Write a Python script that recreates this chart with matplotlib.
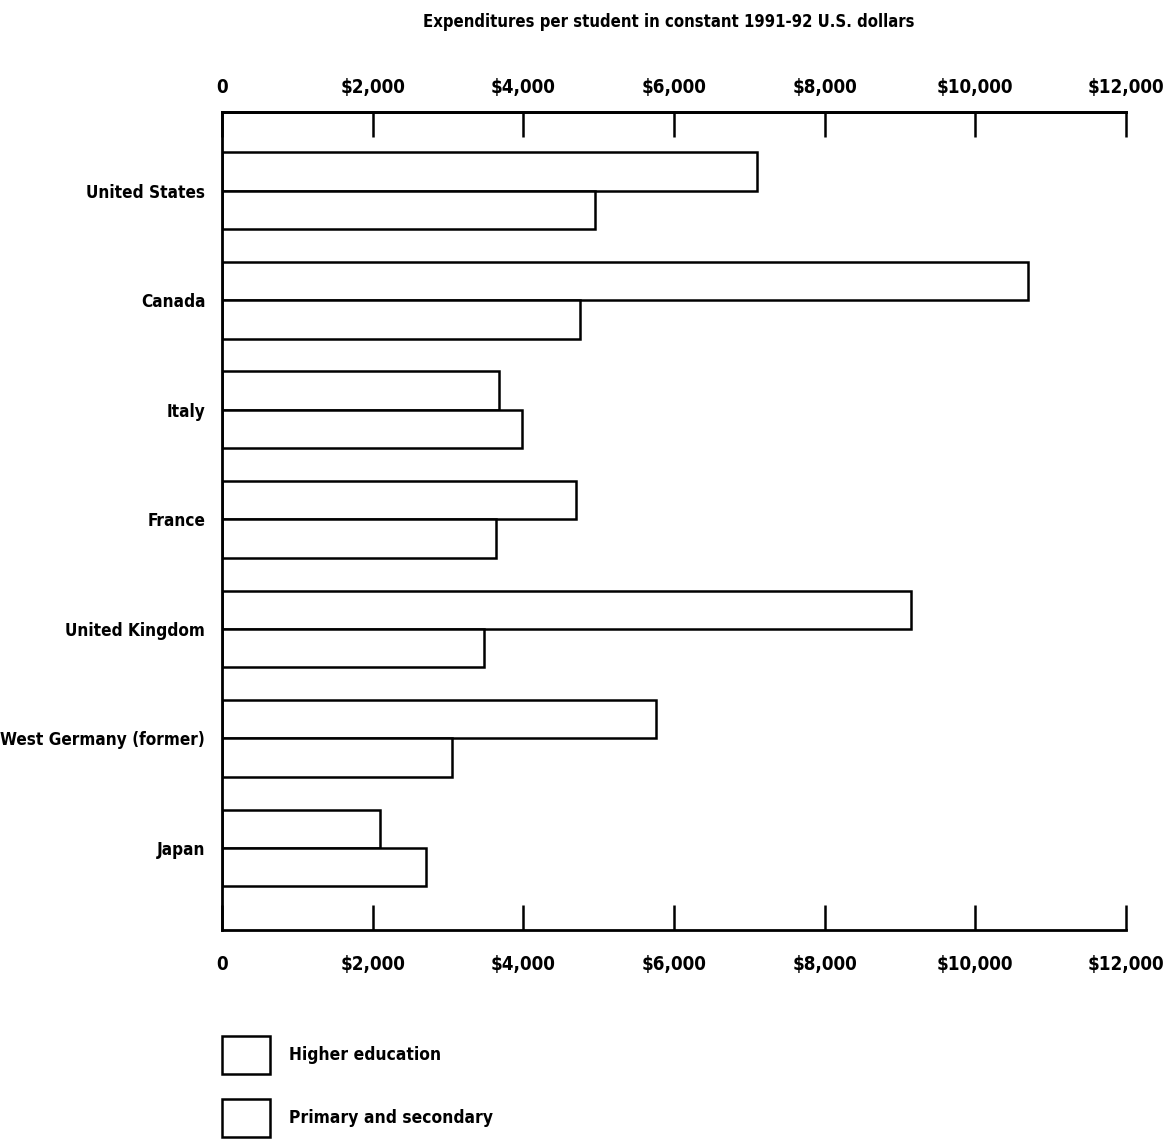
import matplotlib
matplotlib.use('Agg')
import matplotlib.pyplot as plt
import numpy as np

plt.rcParams['font.family'] = ['DejaVu Sans']
plt.rcParams['font.stretch'] = 'condensed'
plt.rcParams['font.weight'] = 'bold'

# Data
countries = ['United States', 'Canada', 'Italy', 'France', 'United Kingdom',
             'West Germany (former)', 'Japan']
higher = [7100, 10700, 3680, 4700, 9150, 5760, 2100]
primary = [4950, 4750, 3980, 3640, 3480, 3050, 2710]
ticks = [0, 2000, 4000, 6000, 8000, 10000, 12000]
tick_labels = ['0', '$2,000', '$4,000', '$6,000', '$8,000', '$10,000', '$12,000']

fig = plt.figure(figsize=(11.67, 11.39), dpi=100)
ax = fig.add_axes([0.1902, 0.1835, 0.7746, 0.7182])

y = np.arange(len(countries))
h = 0.35
b1 = ax.barh(y - h / 2, higher, height=h, color='white', edgecolor='black',
             linewidth=1.8, label='Higher education')
b2 = ax.barh(y + h / 2, primary, height=h, color='white', edgecolor='black',
             linewidth=1.8, label='Primary and secondary')

ax.set_xlim(0, 12000)
ax.set_ylim(len(countries) - 0.25, -0.72)
ax.set_yticks(y)
ax.set_yticklabels(countries, fontsize=12.3)
ax.tick_params(axis='y', length=0, pad=12)

# bottom axis
ax.set_xticks(ticks)
ax.set_xticklabels(tick_labels, fontsize=13.5)
ax.tick_params(axis='x', direction='in', length=18, width=1.8, pad=18)

# top axis
top = ax.secondary_xaxis('top')
top.set_xticks(ticks)
top.set_xticklabels(tick_labels, fontsize=13.5)
top.tick_params(axis='x', direction='in', length=18, width=1.8, pad=10.5)
top.spines['top'].set_linewidth(2)

ax.spines['right'].set_visible(False)
for s in ['left', 'top', 'bottom']:
    ax.spines[s].set_linewidth(2)

fig.text(0.573, 0.981, 'Expenditures per student in constant 1991-92 U.S. dollars',
         ha='center', va='center', fontsize=12)

ax.legend(handles=[b1, b2], loc='upper left', bbox_to_anchor=(0.1902, 0.0904),
          bbox_transform=fig.transFigure, frameon=False, fontsize=12.5,
          handlelength=2.76, handleheight=2.99, labelspacing=1.44,
          handletextpad=1.09, borderpad=0, borderaxespad=0)

fig.savefig('out.png', dpi=100)
